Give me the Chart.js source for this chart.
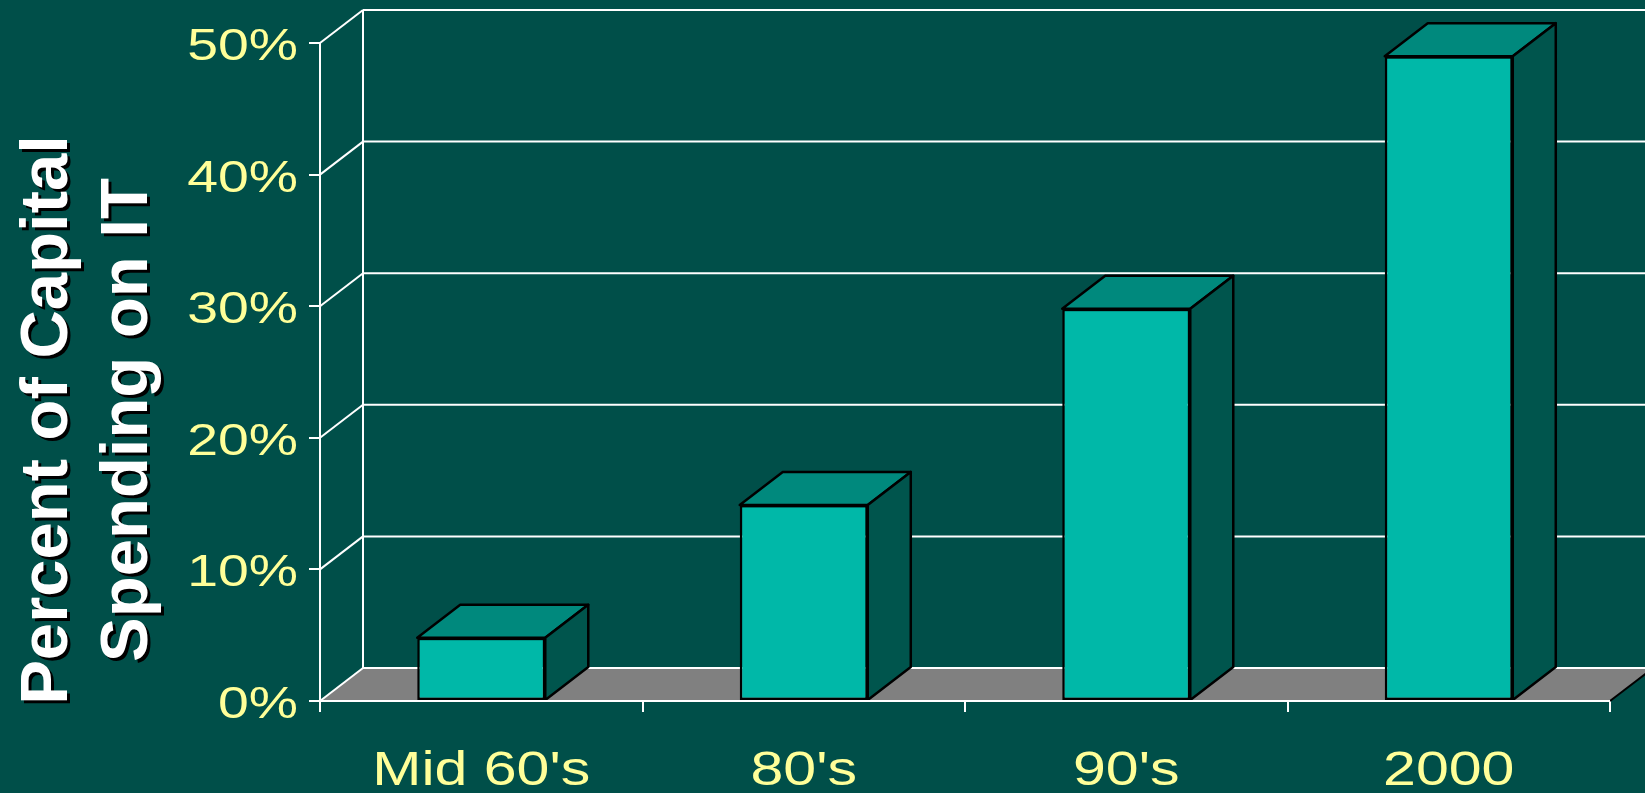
<!DOCTYPE html>
<html>
<head>
<meta charset="utf-8">
<script src="https://cdn.jsdelivr.net/npm/chart.js@4"></script>
<style>
  html, body { margin: 0; padding: 0; background: #004f49; }
  canvas { display: block; }
</style>
</head>
<body>
<canvas id="itChart" width="1645" height="793"></canvas>
<script>
// data
var categories = ["Mid 60's", "80's", "90's", "2000"];
var itSpending = [4.8, 14.9, 29.8, 49];
var yTickValues = [0, 10, 20, 30, 40, 50];
var titleLines = ['Percent of Capital', 'Spending on IT'];

var bgColor = '#004f49';
var frontColor = '#00b8a8';
var topColor = '#00897d';
var sideColor = '#00554d';
var floorColor = '#808080';
var labelColor = '#ffff99';
var depthX = 43, depthY = -33;
var stretch = 1.23;

function line(ctx, x1, y1, x2, y2) {
    ctx.beginPath();
    ctx.moveTo(x1, y1);
    ctx.lineTo(x2, y2);
    ctx.stroke();
}

var box3d = {
    id: 'box3d',
    beforeDatasetsDraw: function(chart) {
        var ctx = chart.ctx;
        var area = chart.chartArea;
        var y = chart.scales.y;
        var W = chart.width;
        ctx.save();

        // floor
        ctx.fillStyle = floorColor;
        ctx.beginPath();
        ctx.moveTo(area.left, area.bottom);
        ctx.lineTo(area.left + depthX, area.bottom + depthY);
        ctx.lineTo(area.right + depthX, area.bottom + depthY);
        ctx.lineTo(area.right, area.bottom);
        ctx.closePath();
        ctx.fill();
        ctx.strokeStyle = '#000';
        ctx.lineWidth = 2;
        line(ctx, area.right, area.bottom, area.right + depthX, area.bottom + depthY);

        // back wall + side wall grid lines
        ctx.strokeStyle = '#fff';
        ctx.lineWidth = 2;
        yTickValues.forEach(function(v) {
            var py = y.getPixelForValue(v);
            line(ctx, area.left, py, area.left + depthX, py + depthY);
            line(ctx, area.left + depthX, py + depthY, W, py + depthY);
        });
        line(ctx, area.left + depthX, area.top + depthY, area.left + depthX, area.bottom + depthY);
        line(ctx, area.left, area.top, area.left, area.bottom);
        ctx.restore();
    },
    afterDatasetsDraw: function(chart) {
        var ctx = chart.ctx;
        var area = chart.chartArea;
        ctx.save();
        ctx.lineWidth = 2.5;
        ctx.strokeStyle = '#000';
        ctx.lineJoin = 'round';
        chart.getDatasetMeta(0).data.forEach(function(bar) {
            var x0 = bar.x - bar.width / 2, x1 = bar.x + bar.width / 2;
            var yt = bar.y, yb = bar.base;
            // top face
            ctx.fillStyle = topColor;
            ctx.beginPath();
            ctx.moveTo(x0, yt);
            ctx.lineTo(x0 + depthX, yt + depthY);
            ctx.lineTo(x1 + depthX, yt + depthY);
            ctx.lineTo(x1, yt);
            ctx.closePath();
            ctx.fill();
            ctx.stroke();
            // side face
            ctx.fillStyle = sideColor;
            ctx.beginPath();
            ctx.moveTo(x1, yt);
            ctx.lineTo(x1 + depthX, yt + depthY);
            ctx.lineTo(x1 + depthX, yb + depthY);
            ctx.lineTo(x1, yb);
            ctx.closePath();
            ctx.fill();
            ctx.stroke();
        });
        // front base line over the bars
        ctx.strokeStyle = '#fff';
        ctx.lineWidth = 2;
        line(ctx, area.left, area.bottom, area.right, area.bottom);
        ctx.restore();
    },
    afterDraw: function(chart) {
        var ctx = chart.ctx;
        var xs = chart.scales.x, ys = chart.scales.y;
        ctx.save();
        ctx.fillStyle = labelColor;

        // y tick labels
        ctx.font = '45px "Liberation Sans", Arial, sans-serif';
        ctx.textAlign = 'right';
        ctx.textBaseline = 'alphabetic';
        yTickValues.forEach(function(v) {
            var py = ys.getPixelForValue(v);
            ctx.save();
            ctx.translate(298, py + 17);
            ctx.scale(stretch, 1);
            ctx.fillText(v + '%', 0, 0);
            ctx.restore();
        });

        // category labels
        ctx.font = '48px "Liberation Sans", Arial, sans-serif';
        ctx.textAlign = 'center';
        categories.forEach(function(c, i) {
            ctx.save();
            ctx.translate(xs.getPixelForValue(i), 785);
            ctx.scale(stretch, 1);
            ctx.fillText(c, 0, 0);
            ctx.restore();
        });

        // axis title, rotated, with hard shadow
        ctx.save();
        ctx.translate(0, 420);
        ctx.rotate(-Math.PI / 2);
        ctx.font = 'bold 67px "Liberation Sans", Arial, sans-serif';
        ctx.fillStyle = '#fff';
        ctx.shadowColor = '#000';
        ctx.shadowOffsetX = 3;
        ctx.shadowOffsetY = 3;
        ctx.shadowBlur = 0;
        ctx.fillText(titleLines[0], 0, 67);
        ctx.fillText(titleLines[1], 0, 147);
        ctx.restore();

        ctx.restore();
    }
};

var ctx = document.getElementById('itChart').getContext('2d');

var itChart = new Chart(ctx, {
    type: 'bar',
    data: {
        labels: categories,
        datasets: [{
            data: itSpending,
            backgroundColor: frontColor,
            borderColor: '#000',
            borderWidth: 2.5,
            borderSkipped: false,
            barPercentage: 0.397,
            categoryPercentage: 1
        }]
    },
    options: {
        responsive: false,
        animation: false,
        layout: { padding: { top: 43, right: 35, left: 0, bottom: 0 } },
        plugins: {
            legend: { display: false },
            tooltip: { enabled: false }
        },
        scales: {
            x: {
                grid: {
                    display: true,
                    drawOnChartArea: false,
                    tickLength: 11,
                    color: '#fff',
                    lineWidth: 2
                },
                border: { display: false },
                ticks: { display: false },
                afterFit: function(scale) { scale.height = 92; }
            },
            y: {
                min: 0,
                max: 50,
                ticks: { display: false, stepSize: 10 },
                grid: {
                    display: true,
                    drawOnChartArea: false,
                    tickLength: 11,
                    color: '#fff',
                    lineWidth: 2
                },
                border: { display: false },
                afterFit: function(scale) { scale.width = 320; }
            }
        }
    },
    plugins: [box3d]
});
</script>
</body>
</html>
